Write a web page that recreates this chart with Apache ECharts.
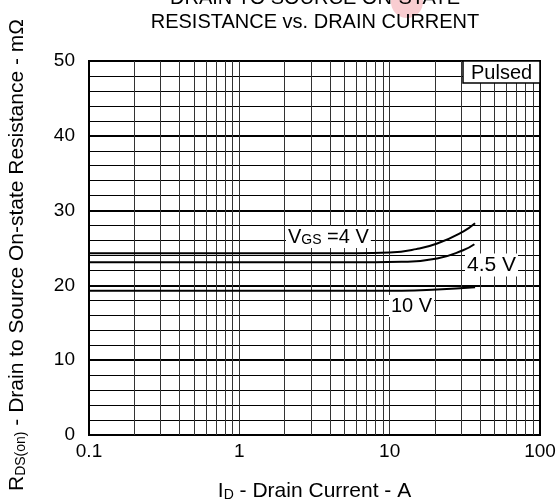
<!DOCTYPE html>
<html>
<head>
<meta charset="utf-8">
<script src="https://cdn.jsdelivr.net/npm/echarts@6/dist/echarts.min.js"></script>
<style>
  html, body { margin: 0; padding: 0; background: #fff; }
  #chart { width: 560px; height: 502px; }
</style>
</head>
<body>
<div id="chart"></div>
<script>
// drain current (A) and on-resistance (mOhm)
const ID_4V = [0.1, 1, 6, 10, 15, 20.7, 30.8, 37];
const R_4V = [24.3, 24.3, 24.3, 24.4, 24.85, 25.6, 27.2, 28.3];
const ID_45V = [0.1, 1, 8, 12, 20.7, 30.8, 36.6];
const R_45V = [23.1, 23.1, 23.1, 23.15, 23.6, 24.7, 25.5];
const ID_10V = [0.1, 1, 12, 20.7, 37];
const R_10V = [19.3, 19.3, 19.3, 19.45, 19.75];

// minor vertical grid of the log axis
const MINOR_X = [0.2, 0.3, 0.4, 0.5, 0.6, 0.7, 0.8, 0.9,
  2, 3, 4, 5, 6, 7, 8, 9,
  20, 30, 40, 50, 60, 70, 80, 90];

const FONT = '"Liberation Sans", Arial, sans-serif';

const pairs = (xs, ys) => xs.map((x, i) => [x, ys[i]]);

const curve = (name, xs, ys) => ({
  name: name,
  type: 'line',
  data: pairs(xs, ys),
  smooth: 0.5,
  showSymbol: false,
  silent: true,
  z: 100,
  lineStyle: { color: '#000', width: 2 }
});

const chart = echarts.init(document.getElementById('chart'), null, { renderer: 'canvas' });

chart.setOption({
  animation: false,
  backgroundColor: '#fff',
  textStyle: { fontFamily: FONT },
  title: {
    text: 'DRAIN TO SOURCE ON-STATE\nRESISTANCE vs. DRAIN CURRENT',
    left: 315,
    top: -14,
    padding: 0,
    textAlign: 'center',
    textStyle: { fontFamily: FONT, fontSize: 20, fontWeight: 'normal', color: '#000', lineHeight: 24 }
  },
  grid: {
    left: 89, right: 20, top: 61, bottom: 67,
    outerBoundsMode: 'none',
    containLabel: false,
    show: true, borderColor: '#000', borderWidth: 2, backgroundColor: 'transparent'
  },
  xAxis: {
    type: 'log',
    logBase: 10,
    min: 0.1,
    max: 100,
    name: '{b|I}{s|D}{b| - Drain Current - A}',
    nameLocation: 'middle',
    nameGap: 46,
    nameTextStyle: {
      rich: {
        b: { fontFamily: FONT, fontSize: 21, color: '#000', verticalAlign: 'bottom' },
        s: { fontFamily: FONT, fontSize: 14, color: '#000', verticalAlign: 'bottom' }
      }
    },
    axisLine: { show: true, lineStyle: { color: '#000', width: 2 } },
    axisTick: { show: false },
    axisLabel: {
      margin: 7, fontFamily: FONT, fontSize: 19, color: '#000',
      formatter: (v) => String(v)
    },
    splitLine: { show: true, showMinLine: false, showMaxLine: false, lineStyle: { color: '#333', width: 1 } }
  },
  yAxis: {
    type: 'value',
    min: 0,
    max: 50,
    interval: 10,
    name: '{b|R}{s|DS(on)}{b| - Drain to Source On-state Resistance - mΩ}',
    nameLocation: 'middle',
    nameGap: 61,
    nameTextStyle: {
      padding: [0, 14, 0, 0],
      rich: {
        b: { fontFamily: FONT, fontSize: 21, color: '#000', verticalAlign: 'bottom' },
        s: { fontFamily: FONT, fontSize: 14, color: '#000', verticalAlign: 'bottom' }
      }
    },
    axisLine: { show: true, lineStyle: { color: '#000', width: 2 } },
    axisTick: { show: false },
    axisLabel: { margin: 14, fontFamily: FONT, fontSize: 19, color: '#000' },
    splitLine: { show: true, lineStyle: { color: '#000', width: 2 } },
    minorTick: { show: false, splitNumber: 5 },
    minorSplitLine: { show: true, lineStyle: { color: '#000', width: 1 } }
  },
  series: [
    {
      name: 'grid',
      type: 'line',
      data: [],
      silent: true,
      markLine: {
        silent: true,
        symbol: 'none',
        z: 3,
        label: { show: false },
        lineStyle: { color: '#333', width: 1, type: 'solid' },
        data: MINOR_X.map((v) => ({ xAxis: v }))
      }
    },
    curve('4 V', ID_4V, R_4V),
    curve('4.5 V', ID_45V, R_45V),
    curve('10 V', ID_10V, R_10V)
  ],
  graphic: [
    {
      type: 'circle', z: 1,
      shape: { cx: 407, cy: 2, r: 16 },
      style: { fill: 'rgba(240, 130, 140, 0.4)' }
    },
    {
      type: 'rect', z: 50,
      shape: { x: 463, y: 61, width: 77, height: 22 },
      style: { fill: '#fff', stroke: '#000', lineWidth: 1.5 }
    },
    {
      type: 'text', z: 51, x: 471, y: 73,
      style: { text: 'Pulsed', font: '20px ' + FONT, fill: '#000', verticalAlign: 'middle' }
    },
    {
      type: 'text', z: 50, x: 286, y: 237,
      style: {
        text: '{b|V}{s|GS}{b| =4 V}',
        fill: '#000', verticalAlign: 'middle', backgroundColor: '#fff', padding: [1, 2],
        rich: {
          b: { fontFamily: FONT, fontSize: 20, verticalAlign: 'bottom' },
          s: { fontFamily: FONT, fontSize: 14, verticalAlign: 'bottom' }
        }
      }
    },
    {
      type: 'text', z: 50, x: 465, y: 265,
      style: {
        text: '4.5 V', font: '21px ' + FONT, fill: '#000', verticalAlign: 'middle',
        backgroundColor: '#fff', padding: [1, 2]
      }
    },
    {
      type: 'text', z: 50, x: 389, y: 306,
      style: {
        text: '10 V', font: '20px ' + FONT, fill: '#000', verticalAlign: 'middle',
        backgroundColor: '#fff', padding: [1, 2]
      }
    }
  ]
});
</script>
</body>
</html>
